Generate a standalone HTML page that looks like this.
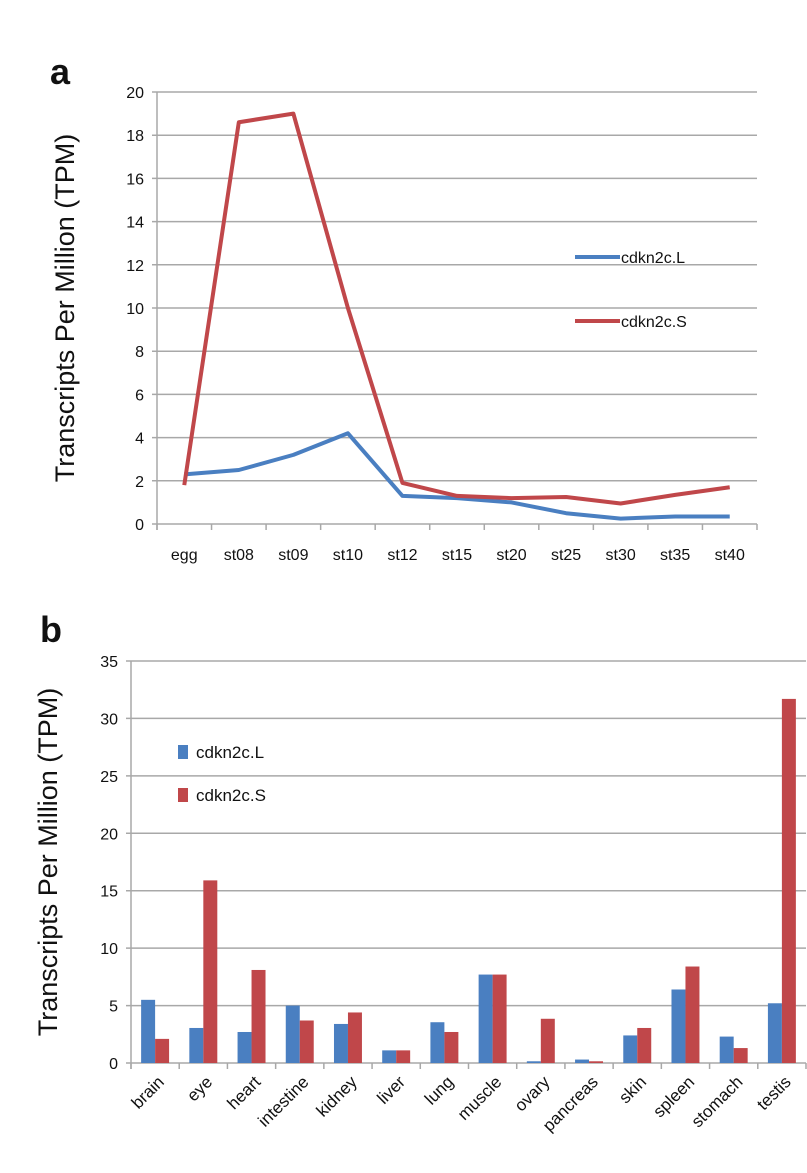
<!DOCTYPE html>
<html><head><meta charset="utf-8"><style>
body{margin:0;background:#fff;}
svg text{font-family:"Liberation Sans",sans-serif;fill:#111;}
</style></head><body>
<svg id="c" width="807" height="1168" viewBox="0 0 807 1168" xmlns="http://www.w3.org/2000/svg">
<text x="50" y="84" font-size="36" font-weight="bold">a</text>
<text x="40" y="642" font-size="36" font-weight="bold">b</text>
<text transform="translate(74,308) rotate(-90)" text-anchor="middle" font-size="27">Transcripts Per Million (TPM)</text>
<text transform="translate(57,862) rotate(-90)" text-anchor="middle" font-size="27">Transcripts Per Million (TPM)</text>
<g id="ga"></g><g id="gb"></g>
</svg>
<script>
const stages=["egg","st08","st09","st10","st12","st15","st20","st25","st30","st35","st40"];
const lineL=[2.3,2.5,3.2,4.2,1.3,1.2,1.0,0.5,0.25,0.35,0.35];
const lineS=[1.8,18.6,19.0,10.0,1.9,1.3,1.2,1.25,0.95,1.35,1.7];
const ticksA=[0,2,4,6,8,10,12,14,16,18,20];
const tissues=["brain","eye","heart","intestine","kidney","liver","lung","muscle","ovary","pancreas","skin","spleen","stomach","testis"];
const barL=[5.5,3.05,2.7,5.0,3.4,1.1,3.55,7.7,0.15,0.3,2.4,6.4,2.3,5.2];
const barS=[2.1,15.9,8.1,3.7,4.4,1.1,2.7,7.7,3.85,0.15,3.05,8.4,1.3,31.7];
const ticksB=[0,5,10,15,20,25,30,35];
const NS="http://www.w3.org/2000/svg";
function mk(p,t,a){const e=document.createElementNS(NS,t);for(const k in a)e.setAttribute(k,a[k]);p.appendChild(e);return e;}
const BLUE="#4a7fc1",RED="#c0474a",GRID="#a8a8a8";
// chart a
const ga=document.getElementById('ga');
const aL=157,aR=757,aT=92,aB=524;
const ya=v=>aB-(v/20)*(aB-aT);
const cw=(aR-aL)/stages.length;
const xa=i=>aL+cw*(i+0.5);
ticksA.forEach(t=>{
 const g=mk(ga,'line',{x1:aL-5,x2:aR,y1:ya(t),y2:ya(t),stroke:GRID,'stroke-width':1.5});
 
 
 const tx=mk(ga,'text',{x:aL-13,y:ya(t)+6,'text-anchor':'end','font-size':16});
 tx.textContent=t;
 
 
});
mk(ga,'line',{x1:aL,x2:aL,y1:aT,y2:aB+6,stroke:GRID,'stroke-width':1.5});
for(let i=0;i<=stages.length;i++)mk(ga,'line',{x1:aL+cw*i,x2:aL+cw*i,y1:aB,y2:aB+6,stroke:GRID,'stroke-width':1.5});
stages.forEach((s,i)=>{
 const tx=mk(ga,'text',{x:xa(i),y:aB+36,'text-anchor':'middle','font-size':16});
 tx.textContent=s;
 
 
});
[[lineL,BLUE,'line-cdkn2c-L'],[lineS,RED,'line-cdkn2c-S']].forEach(([d,c,n])=>{
 const p=mk(ga,'polyline',{points:d.map((v,i)=>xa(i)+','+ya(v)).join(' '),fill:'none',stroke:c,'stroke-width':4,'stroke-linejoin':'round'});
 
 
});
[[BLUE,'cdkn2c.L',257],[RED,'cdkn2c.S',321]].forEach(([c,t,y])=>{
 const l=mk(ga,'line',{x1:575,x2:620,y1:y,y2:y,stroke:c,'stroke-width':4});
 
 
 const tx=mk(ga,'text',{x:621,y:y+6,'font-size':16});
 tx.textContent=t;
 
 
});
// chart b
const gb=document.getElementById('gb');
const bL=131,bR=806,bT=661,bB=1063;
const yb=v=>bB-(v/35)*(bB-bT);
const bw=(bR-bL)/tissues.length;
ticksB.forEach(t=>{
 const g=mk(gb,'line',{x1:bL-5,x2:bR,y1:yb(t),y2:yb(t),stroke:GRID,'stroke-width':1.5});
 
 
 const tx=mk(gb,'text',{x:bL-13,y:yb(t)+6,'text-anchor':'end','font-size':16});
 tx.textContent=t;
 
 
});
mk(gb,'line',{x1:bL,x2:bL,y1:bT,y2:bB+6,stroke:GRID,'stroke-width':1.5});
for(let i=0;i<=tissues.length;i++)mk(gb,'line',{x1:bL+bw*i,x2:bL+bw*i,y1:bB,y2:bB+6,stroke:GRID,'stroke-width':1.5});
const barW=bw*0.29;
tissues.forEach((s,i)=>{
 const cx=bL+bw*(i+0.5);
 const r1=mk(gb,'rect',{x:cx-barW,y:yb(barL[i]),width:barW,height:bB-yb(barL[i]),fill:BLUE});
 
 
 const r2=mk(gb,'rect',{x:cx,y:yb(barS[i]),width:barW,height:bB-yb(barS[i]),fill:RED});
 
 
 const tx=mk(gb,'text',{transform:`translate(${cx+10},${bB+20}) rotate(-45)`,'text-anchor':'end','font-size':17});
 tx.textContent=s;
 
 
});
[[BLUE,'cdkn2c.L',752],[RED,'cdkn2c.S',795]].forEach(([c,t,y])=>{
 const r=mk(gb,'rect',{x:178,y:y-7,width:10,height:14,fill:c});
 
 
 const tx=mk(gb,'text',{x:196,y:y+6,'font-size':17});
 tx.textContent=t;
 
 
});
</script>
</body></html>
